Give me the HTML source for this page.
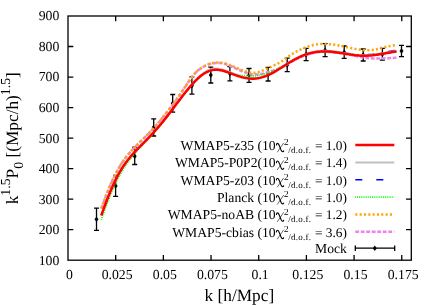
<!DOCTYPE html><html><head><meta charset="utf-8"><style>
html,body{margin:0;padding:0;background:#fff;}
svg{display:block;font-family:"Liberation Serif",serif;text-rendering:geometricPrecision;will-change:transform;}
</style></head><body>
<svg width="436" height="305" viewBox="0 0 436 305">
<rect width="436" height="305" fill="#fff"/>
<g stroke="#000" stroke-width="1.3" fill="none">
<path d="M96.5,208.1 V230.4 M94.0,208.1 h5 M94.0,230.4 h5"/>
<path d="M115.6,175.5 V196.4 M113.1,175.5 h5 M113.1,196.4 h5"/>
<path d="M134.7,147.2 V164.5 M132.2,147.2 h5 M132.2,164.5 h5"/>
<path d="M153.7,118.9 V136.0 M151.2,118.9 h5 M151.2,136.0 h5"/>
<path d="M172.7,94.5 V112.2 M170.2,94.5 h5 M170.2,112.2 h5"/>
<path d="M191.9,76.9 V94.2 M189.4,76.9 h5 M189.4,94.2 h5"/>
<path d="M210.8,67.2 V83.0 M208.3,67.2 h5 M208.3,83.0 h5"/>
<path d="M229.9,66.5 V80.8 M227.4,66.5 h5 M227.4,80.8 h5"/>
<path d="M249.0,68.5 V82.3 M246.5,68.5 h5 M246.5,82.3 h5"/>
<path d="M268.1,67.4 V81.0 M265.6,67.4 h5 M265.6,81.0 h5"/>
<path d="M287.2,58.2 V71.6 M284.7,58.2 h5 M284.7,71.6 h5"/>
<path d="M306.1,48.4 V60.7 M303.6,48.4 h5 M303.6,60.7 h5"/>
<path d="M325.1,43.7 V56.6 M322.6,43.7 h5 M322.6,56.6 h5"/>
<path d="M344.2,46.0 V58.4 M341.7,46.0 h5 M341.7,58.4 h5"/>
<path d="M363.2,49.0 V61.0 M360.7,49.0 h5 M360.7,61.0 h5"/>
<path d="M382.4,48.4 V60.2 M379.9,48.4 h5 M379.9,60.2 h5"/>
<path d="M401.5,45.4 V56.6 M399.0,45.4 h5 M399.0,56.6 h5"/>
</g>
<g fill="#000">
<path d="M96.5,216.4 l2.0,2.8 l-2.0,2.8 l-2.0,-2.8 z"/>
<path d="M115.6,183.1 l2.0,2.8 l-2.0,2.8 l-2.0,-2.8 z"/>
<path d="M134.7,153.4 l2.0,2.8 l-2.0,2.8 l-2.0,-2.8 z"/>
<path d="M153.7,124.4 l2.0,2.8 l-2.0,2.8 l-2.0,-2.8 z"/>
<path d="M172.7,100.5 l2.0,2.8 l-2.0,2.8 l-2.0,-2.8 z"/>
<path d="M191.9,83.0 l2.0,2.8 l-2.0,2.8 l-2.0,-2.8 z"/>
<path d="M210.8,72.3 l2.0,2.8 l-2.0,2.8 l-2.0,-2.8 z"/>
<path d="M229.9,70.8 l2.0,2.8 l-2.0,2.8 l-2.0,-2.8 z"/>
<path d="M249.0,72.4 l2.0,2.8 l-2.0,2.8 l-2.0,-2.8 z"/>
<path d="M268.1,71.5 l2.0,2.8 l-2.0,2.8 l-2.0,-2.8 z"/>
<path d="M287.2,62.1 l2.0,2.8 l-2.0,2.8 l-2.0,-2.8 z"/>
<path d="M306.1,51.8 l2.0,2.8 l-2.0,2.8 l-2.0,-2.8 z"/>
<path d="M325.1,47.4 l2.0,2.8 l-2.0,2.8 l-2.0,-2.8 z"/>
<path d="M344.2,49.4 l2.0,2.8 l-2.0,2.8 l-2.0,-2.8 z"/>
<path d="M363.2,52.2 l2.0,2.8 l-2.0,2.8 l-2.0,-2.8 z"/>
<path d="M382.4,51.5 l2.0,2.8 l-2.0,2.8 l-2.0,-2.8 z"/>
<path d="M401.5,48.2 l2.0,2.8 l-2.0,2.8 l-2.0,-2.8 z"/>
</g>
<g fill="none" stroke-linejoin="round">
<path d="M101.30,208.59 L103.28,203.06 L105.26,197.73 L107.24,192.63 L109.22,187.78 L111.21,183.19 L113.19,178.86 L115.17,174.81 L117.15,171.02 L119.13,167.51 L121.11,164.25 L123.09,161.24 L125.07,158.46 L127.06,155.88 L129.04,153.47 L131.02,151.21 L133.00,149.07 L134.98,147.01 L136.96,145.01 L138.94,143.05 L140.92,141.10 L142.91,139.17 L144.89,137.24 L146.87,135.28 L148.85,133.28 L150.83,131.22 L152.81,129.10 L154.79,126.91 L156.77,124.65 L158.76,122.34 L160.74,119.96 L162.72,117.53 L164.70,115.04 L166.68,112.51 L168.66,109.93 L170.64,107.33 L172.62,104.70 L174.60,102.06 L176.59,99.38 L178.57,96.61 L180.55,93.75 L182.53,90.82 L184.51,87.83 L186.49,84.82 L188.47,81.87 L190.45,79.01 L192.44,76.35 L194.42,73.98 L196.40,71.91 L198.38,70.13 L200.36,68.67 L202.34,67.40 L204.32,66.30 L206.30,65.34 L208.29,64.54 L210.27,63.93 L212.25,63.46 L214.23,63.13 L216.21,62.96 L218.19,62.95 L220.17,63.08 L222.15,63.37 L224.13,63.81 L226.12,64.40 L228.10,65.10 L230.08,65.88 L232.06,66.74 L234.04,67.66 L236.02,68.58 L238.00,69.50 L239.98,70.40 L241.97,71.26 L243.95,72.06 L245.93,72.78 L247.91,73.41 L249.89,73.92 L251.87,74.31 L253.85,74.52 L255.83,74.56 L257.82,74.45 L259.80,74.21 L261.78,73.83 L263.76,73.35 L265.74,72.80 L267.72,72.24 L269.70,71.66 L271.68,71.06 L273.67,70.45 L275.65,69.83 L277.63,69.16 L279.61,68.37 L281.59,67.46 L283.57,66.43 L285.55,65.32 L287.53,64.11 L289.51,62.92 L291.50,61.76 L293.48,60.64 L295.46,59.58 L297.44,58.56 L299.42,57.61 L301.40,56.72 L303.38,55.90 L305.36,55.14 L307.35,54.46 L309.33,53.86 L311.31,53.34 L313.29,52.90 L315.27,52.54 L317.25,52.25 L319.23,52.03 L321.21,51.88 L323.20,51.79 L325.18,51.77 L327.16,51.80 L329.14,51.89 L331.12,52.03 L333.10,52.22 L335.08,52.44 L337.06,52.70 L339.04,52.99 L341.03,53.30 L343.01,53.62 L344.99,53.95 L346.97,54.29 L348.95,54.65 L350.93,55.02 L352.91,55.39 L354.89,55.78 L356.88,56.18 L358.86,56.58 L360.84,56.98 L362.82,57.36 L364.80,57.71 L366.78,58.00 L368.76,58.21 L370.74,58.37 L372.73,58.47 L374.71,58.52 L376.69,58.52 L378.67,58.50 L380.65,58.46 L382.63,58.41 L384.61,58.33 L386.59,58.24 L388.58,58.15 L390.56,58.05 L392.54,57.95 L394.52,57.81 L396.50,57.63" stroke="#ee82ee" stroke-width="2.5" stroke-dasharray="3.8 1.7"/>
<path d="M101.30,208.59 L103.28,203.06 L105.26,197.73 L107.24,192.63 L109.22,187.78 L111.21,183.19 L113.19,178.86 L115.17,174.81 L117.15,171.02 L119.13,167.51 L121.11,164.25 L123.09,161.24 L125.07,158.46 L127.06,155.88 L129.04,153.47 L131.02,151.21 L133.00,149.07 L134.98,147.01 L136.96,145.01 L138.94,143.05 L140.92,141.10 L142.91,139.17 L144.89,137.24 L146.87,135.28 L148.85,133.28 L150.83,131.22 L152.81,129.10 L154.79,126.91 L156.77,124.65 L158.76,122.34 L160.74,119.96 L162.72,117.53 L164.70,115.04 L166.68,112.51 L168.66,109.93 L170.64,107.33 L172.62,104.70 L174.60,102.06 L176.59,99.38 L178.57,96.61 L180.55,93.75 L182.53,90.82 L184.51,87.83 L186.49,84.82 L188.47,81.87 L190.45,79.01 L192.44,76.35 L194.42,73.95 L196.40,71.85 L198.38,70.03 L200.36,68.53 L202.34,67.23 L204.32,66.10 L206.30,65.13 L208.29,64.30 L210.27,63.65 L212.25,63.14 L214.23,62.76 L216.21,62.55 L218.19,62.49 L220.17,62.60 L222.15,62.86 L224.13,63.27 L226.12,63.80 L228.10,64.44 L230.08,65.13 L232.06,65.89 L234.04,66.72 L236.02,67.56 L238.00,68.42 L239.98,69.27 L241.97,70.09 L243.95,70.85 L245.93,71.54 L247.91,72.13 L249.89,72.60 L251.87,72.89 L253.85,72.94 L255.83,72.75 L257.82,72.35 L259.80,71.75 L261.78,71.00 L263.76,70.17 L265.74,69.26 L267.72,68.35 L269.70,67.43 L271.68,66.51 L273.67,65.60 L275.65,64.67 L277.63,63.67 L279.61,62.59 L281.59,61.42 L283.57,60.12 L285.55,58.72 L287.53,57.25 L289.51,55.80 L291.50,54.43 L293.48,53.20 L295.46,52.09 L297.44,51.09 L299.42,50.11 L301.40,49.17 L303.38,48.28 L305.36,47.47 L307.35,46.75 L309.33,46.11 L311.31,45.56 L313.29,45.08 L315.27,44.67 L317.25,44.36 L319.23,44.13 L321.21,44.00 L323.20,43.96 L325.18,43.98 L327.16,44.06 L329.14,44.18 L331.12,44.35 L333.10,44.58 L335.08,44.86 L337.06,45.20 L339.04,45.57 L341.03,45.95 L343.01,46.34 L344.99,46.75 L346.97,47.17 L348.95,47.60 L350.93,48.03 L352.91,48.45 L354.89,48.85 L356.88,49.20 L358.86,49.50 L360.84,49.76 L362.82,49.96 L364.80,50.11 L366.78,50.20 L368.76,50.23 L370.74,50.19 L372.73,50.01 L374.71,49.70 L376.69,49.28 L378.67,48.76 L380.65,48.20 L382.63,47.68 L384.61,47.20 L386.59,46.76 L388.58,46.37 L390.56,45.99 L392.54,45.61 L394.52,45.25 L396.50,44.89" stroke="#ffa500" stroke-width="2.5" stroke-dasharray="2.05 2.28"/>
<path d="M101.30,219.64 L103.28,213.99 L105.26,208.49 L107.24,203.16 L109.22,198.05 L111.21,193.17 L113.19,188.54 L115.17,184.18 L117.15,180.08 L119.13,176.25 L121.11,172.68 L123.09,169.35 L125.07,166.25 L127.06,163.35 L129.04,160.63 L131.02,158.04 L133.00,155.57 L134.98,153.18 L136.96,150.88 L138.94,148.64 L140.92,146.46 L142.91,144.33 L144.89,142.23 L146.87,140.14 L148.85,138.03 L150.83,135.90 L152.81,133.74 L154.79,131.54 L156.77,129.30 L158.76,126.99 L160.74,124.63 L162.72,122.21 L164.70,119.73 L166.68,117.21 L168.66,114.65 L170.64,112.05 L172.62,109.43 L174.60,106.80 L176.59,104.17 L178.57,101.54 L180.55,98.93 L182.53,96.34 L184.51,93.80 L186.49,91.30 L188.47,88.88 L190.45,86.53 L192.44,84.28 L194.42,82.13 L196.40,80.11 L198.38,78.23 L200.36,76.50 L202.34,74.94 L204.32,73.56 L206.30,72.39 L208.29,71.43 L210.27,70.69 L212.25,70.17 L214.23,69.86 L216.21,69.75 L218.19,69.82 L220.17,70.07 L222.15,70.46 L224.13,70.96 L226.12,71.55 L228.10,72.16 L230.08,72.77 L232.06,73.34 L234.04,73.87 L236.02,74.33 L238.00,74.76 L239.98,75.14 L241.97,75.47 L243.95,75.73 L245.93,75.91 L247.91,76.01 L249.89,76.04 L251.87,75.98 L253.85,75.87 L255.83,75.69 L257.82,75.44 L259.80,75.09 L261.78,74.68 L263.76,74.19 L265.74,73.61 L267.72,72.96 L269.70,72.23 L271.68,71.44 L273.67,70.57 L275.65,69.64 L277.63,68.65 L279.61,67.62 L281.59,66.57 L283.57,65.47 L285.55,64.36 L287.53,63.24 L289.51,62.12 L291.50,61.01 L293.48,59.95 L295.46,58.94 L297.44,57.98 L299.42,57.07 L301.40,56.21 L303.38,55.42 L305.36,54.68 L307.35,54.01 L309.33,53.43 L311.31,52.92 L313.29,52.49 L315.27,52.14 L317.25,51.86 L319.23,51.66 L321.21,51.52 L323.20,51.45 L325.18,51.44 L327.16,51.48 L329.14,51.58 L331.12,51.73 L333.10,51.92 L335.08,52.14 L337.06,52.40 L339.04,52.69 L341.03,53.00 L343.01,53.32 L344.99,53.65 L346.97,53.98 L348.95,54.30 L350.93,54.61 L352.91,54.89 L354.89,55.15 L356.88,55.37 L358.86,55.54 L360.84,55.66 L362.82,55.73 L364.80,55.74 L366.78,55.69 L368.76,55.58 L370.74,55.42 L372.73,55.22 L374.71,54.97 L376.69,54.69 L378.67,54.39 L380.65,54.07 L382.63,53.75 L384.61,53.41 L386.59,53.08 L388.58,52.75 L390.56,52.42 L392.54,52.10 L394.52,51.78 L396.50,51.46" stroke="#00ff00" stroke-width="1.9" stroke-dasharray="0.85 1"/>
<path d="M101.30,215.50 L103.28,209.90 L105.26,204.47 L107.24,199.24 L109.22,194.25 L111.21,189.49 L113.19,185.00 L115.17,180.78 L117.15,176.83 L119.13,173.15 L121.11,169.74 L123.09,166.58 L125.07,163.65 L127.06,160.93 L129.04,158.40 L131.02,156.02 L133.00,153.76 L134.98,151.61 L136.96,149.52 L138.94,147.50 L140.92,145.50 L142.91,143.51 L144.89,141.52 L146.87,139.51 L148.85,137.48 L150.83,135.40 L152.81,133.27 L154.79,131.09 L156.77,128.85 L158.76,126.55 L160.74,124.19 L162.72,121.78 L164.70,119.31 L166.68,116.79 L168.66,114.24 L170.64,111.65 L172.62,109.04 L174.60,106.41 L176.59,103.78 L178.57,101.16 L180.55,98.55 L182.53,95.97 L184.51,93.43 L186.49,90.94 L188.47,88.52 L190.45,86.18 L192.44,83.93 L194.42,81.80 L196.40,79.78 L198.38,77.91 L200.36,76.19 L202.34,74.65 L204.32,73.29 L206.30,72.14 L208.29,71.21 L210.27,70.49 L212.25,69.99 L214.23,69.70 L216.21,69.62 L218.19,69.72 L220.17,69.99 L222.15,70.40 L224.13,70.93 L226.12,71.55 L228.10,72.23 L230.08,72.95 L232.06,73.69 L234.04,74.43 L236.02,75.14 L238.00,75.82 L239.98,76.44 L241.97,77.00 L243.95,77.49 L245.93,77.88 L247.91,78.18 L249.89,78.37 L251.87,78.46 L253.85,78.44 L255.83,78.30 L257.82,78.04 L259.80,77.67 L261.78,77.18 L263.76,76.58 L265.74,75.87 L267.72,75.06 L269.70,74.15 L271.68,73.16 L273.67,72.09 L275.65,70.95 L277.63,69.77 L279.61,68.54 L281.59,67.29 L283.57,66.02 L285.55,64.76 L287.53,63.52 L289.51,62.30 L291.50,61.11 L293.48,59.97 L295.46,58.88 L297.44,57.85 L299.42,56.88 L301.40,55.99 L303.38,55.17 L305.36,54.42 L307.35,53.75 L309.33,53.16 L311.31,52.66 L313.29,52.23 L315.27,51.87 L317.25,51.59 L319.23,51.39 L321.21,51.25 L323.20,51.17 L325.18,51.16 L327.16,51.20 L329.14,51.30 L331.12,51.44 L333.10,51.63 L335.08,51.85 L337.06,52.10 L339.04,52.37 L341.03,52.65 L343.01,52.94 L344.99,53.23 L346.97,53.51 L348.95,53.78 L350.93,54.05 L352.91,54.28 L354.89,54.49 L356.88,54.66 L358.86,54.79 L360.84,54.86 L362.82,54.88 L364.80,54.85 L366.78,54.77 L368.76,54.63 L370.74,54.45 L372.73,54.22 L374.71,53.94 L376.69,53.64 L378.67,53.31 L380.65,52.97 L382.63,52.61 L384.61,52.26 L386.59,51.90 L388.58,51.54 L390.56,51.19 L392.54,50.84 L394.52,50.51 L396.50,50.17" stroke="#0000ff" stroke-width="1.6" stroke-dasharray="7 14" stroke-dashoffset="8"/>
<path d="M101.30,215.50 L103.28,209.90 L105.26,204.47 L107.24,199.24 L109.22,194.24 L111.21,189.48 L113.19,184.99 L115.17,180.77 L117.15,176.82 L119.13,173.14 L121.11,169.72 L123.09,166.55 L125.07,163.62 L127.06,160.90 L129.04,158.37 L131.02,155.99 L133.00,153.73 L134.98,151.57 L136.96,149.49 L138.94,147.46 L140.92,145.46 L142.91,143.47 L144.89,141.48 L146.87,139.47 L148.85,137.43 L150.83,135.35 L152.81,133.22 L154.79,131.04 L156.77,128.80 L158.76,126.50 L160.74,124.14 L162.72,121.72 L164.70,119.25 L166.68,116.73 L168.66,114.17 L170.64,111.58 L172.62,108.96 L174.60,106.34 L176.59,103.70 L178.57,101.08 L180.55,98.47 L182.53,95.89 L184.51,93.35 L186.49,90.85 L188.47,88.41 L190.45,86.02 L192.44,83.70 L194.42,81.48 L196.40,79.36 L198.38,77.38 L200.36,75.56 L202.34,73.92 L204.32,72.48 L206.30,71.25 L208.29,70.25 L210.27,69.47 L212.25,68.93 L214.23,68.61 L216.21,68.52 L218.19,68.64 L220.17,68.94 L222.15,69.40 L224.13,69.97 L226.12,70.63 L228.10,71.36 L230.08,72.15 L232.06,72.96 L234.04,73.78 L236.02,74.59 L238.00,75.36 L239.98,76.08 L241.97,76.73 L243.95,77.28 L245.93,77.73 L247.91,78.06 L249.89,78.27 L251.87,78.36 L253.85,78.34 L255.83,78.21 L257.82,77.96 L259.80,77.59 L261.78,77.11 L263.76,76.52 L265.74,75.81 L267.72,75.01 L269.70,74.11 L271.68,73.12 L273.67,72.06 L275.65,70.93 L277.63,69.75 L279.61,68.53 L281.59,67.28 L283.57,66.02 L285.55,64.77 L287.53,63.53 L289.51,62.32 L291.50,61.14 L293.48,60.00 L295.46,58.92 L297.44,57.88 L299.42,56.90 L301.40,55.98 L303.38,55.11 L305.36,54.32 L307.35,53.59 L309.33,52.95 L311.31,52.38 L313.29,51.89 L315.27,51.48 L317.25,51.16 L319.23,50.92 L321.21,50.77 L323.20,50.70 L325.18,50.72 L327.16,50.79 L329.14,50.92 L331.12,51.09 L333.10,51.31 L335.08,51.57 L337.06,51.86 L339.04,52.16 L341.03,52.49 L343.01,52.82 L344.99,53.15 L346.97,53.48 L348.95,53.80 L350.93,54.11 L352.91,54.39 L354.89,54.65 L356.88,54.87 L358.86,55.04 L360.84,55.16 L362.82,55.23 L364.80,55.24 L366.78,55.19 L368.76,55.08 L370.74,54.92 L372.73,54.72 L374.71,54.47 L376.69,54.19 L378.67,53.89 L380.65,53.57 L382.63,53.25 L384.61,52.91 L386.59,52.58 L388.58,52.25 L390.56,51.92 L392.54,51.60 L394.52,51.28 L396.50,50.96" stroke="#c0c0c0" stroke-width="2"/>
<path d="M101.30,215.51 L103.28,209.90 L105.26,204.48 L107.24,199.25 L109.22,194.26 L111.21,189.51 L113.19,185.02 L115.17,180.80 L117.15,176.85 L119.13,173.18 L121.11,169.76 L123.09,166.60 L125.07,163.68 L127.06,160.96 L129.04,158.43 L131.02,156.05 L133.00,153.80 L134.98,151.65 L136.96,149.57 L138.94,147.54 L140.92,145.55 L142.91,143.56 L144.89,141.58 L146.87,139.57 L148.85,137.54 L150.83,135.46 L152.81,133.34 L154.79,131.16 L156.77,128.92 L158.76,126.63 L160.74,124.27 L162.72,121.86 L164.70,119.39 L166.68,116.87 L168.66,114.32 L170.64,111.73 L172.62,109.12 L174.60,106.50 L176.59,103.87 L178.57,101.25 L180.55,98.65 L182.53,96.07 L184.51,93.53 L186.49,91.05 L188.47,88.63 L190.45,86.29 L192.44,84.05 L194.42,81.91 L196.40,79.90 L198.38,78.03 L200.36,76.31 L202.34,74.77 L204.32,73.42 L206.30,72.28 L208.29,71.34 L210.27,70.63 L212.25,70.13 L214.23,69.85 L216.21,69.76 L218.19,69.87 L220.17,70.14 L222.15,70.55 L224.13,71.08 L226.12,71.70 L228.10,72.39 L230.08,73.11 L232.06,73.85 L234.04,74.59 L236.02,75.31 L238.00,75.99 L239.98,76.62 L241.97,77.18 L243.95,77.66 L245.93,78.06 L247.91,78.36 L249.89,78.56 L251.87,78.65 L253.85,78.63 L255.83,78.49 L257.82,78.24 L259.80,77.87 L261.78,77.38 L263.76,76.78 L265.74,76.08 L267.72,75.27 L269.70,74.36 L271.68,73.37 L273.67,72.31 L275.65,71.17 L277.63,69.99 L279.61,68.76 L281.59,67.51 L283.57,66.25 L285.55,65.00 L287.53,63.75 L289.51,62.54 L291.50,61.35 L293.48,60.21 L295.46,59.13 L297.44,58.10 L299.42,57.13 L301.40,56.24 L303.38,55.42 L305.36,54.68 L307.35,54.01 L309.33,53.43 L311.31,52.92 L313.29,52.49 L315.27,52.14 L317.25,51.86 L319.23,51.66 L321.21,51.52 L323.20,51.45 L325.18,51.44 L327.16,51.48 L329.14,51.58 L331.12,51.73 L333.10,51.92 L335.08,52.14 L337.06,52.40 L339.04,52.69 L341.03,53.00 L343.01,53.32 L344.99,53.65 L346.97,53.98 L348.95,54.30 L350.93,54.61 L352.91,54.89 L354.89,55.15 L356.88,55.37 L358.86,55.54 L360.84,55.66 L362.82,55.73 L364.80,55.74 L366.78,55.69 L368.76,55.58 L370.74,55.42 L372.73,55.22 L374.71,54.97 L376.69,54.69 L378.67,54.39 L380.65,54.07 L382.63,53.75 L384.61,53.41 L386.59,53.08 L388.58,52.75 L390.56,52.42 L392.54,52.10 L394.52,51.78 L396.50,51.46" stroke="#ff0000" stroke-width="2.5"/>
</g>
<g stroke="#000" stroke-width="1.3" fill="none">
<rect x="68.0" y="16.0" width="343.3" height="244.2"/>
<path d="M68.0,229.67 h5.3 M411.3,229.67 h-5.3"/>
<path d="M68.0,199.15 h5.3 M411.3,199.15 h-5.3"/>
<path d="M68.0,168.62 h5.3 M411.3,168.62 h-5.3"/>
<path d="M68.0,138.10 h5.3 M411.3,138.10 h-5.3"/>
<path d="M68.0,107.57 h5.3 M411.3,107.57 h-5.3"/>
<path d="M68.0,77.05 h5.3 M411.3,77.05 h-5.3"/>
<path d="M68.0,46.52 h5.3 M411.3,46.52 h-5.3"/>
<path d="M115.68,260.2 v-5.3 M115.68,16.0 v5.3"/>
<path d="M163.36,260.2 v-5.3 M163.36,16.0 v5.3"/>
<path d="M211.04,260.2 v-5.3 M211.04,16.0 v5.3"/>
<path d="M258.72,260.2 v-5.3 M258.72,16.0 v5.3"/>
<path d="M306.40,260.2 v-5.3 M306.40,16.0 v5.3"/>
<path d="M354.08,260.2 v-5.3 M354.08,16.0 v5.3"/>
<path d="M401.76,260.2 v-5.3 M401.76,16.0 v5.3"/>
</g>
<g font-size="13.75" fill="#000">
<text x="59.3" y="264.6" text-anchor="end">100</text>
<text x="59.3" y="234.1" text-anchor="end">200</text>
<text x="59.3" y="203.5" text-anchor="end">300</text>
<text x="59.3" y="173.0" text-anchor="end">400</text>
<text x="59.3" y="142.5" text-anchor="end">500</text>
<text x="59.3" y="112.0" text-anchor="end">600</text>
<text x="59.3" y="81.4" text-anchor="end">700</text>
<text x="59.3" y="50.9" text-anchor="end">800</text>
<text x="59.3" y="20.4" text-anchor="end">900</text>
<text x="69.4" y="278.9" text-anchor="middle">0</text>
<text x="117.1" y="278.9" text-anchor="middle">0.025</text>
<text x="164.8" y="278.9" text-anchor="middle">0.05</text>
<text x="212.4" y="278.9" text-anchor="middle">0.075</text>
<text x="260.1" y="278.9" text-anchor="middle">0.1</text>
<text x="307.8" y="278.9" text-anchor="middle">0.125</text>
<text x="355.5" y="278.9" text-anchor="middle">0.15</text>
<text x="403.2" y="278.9" text-anchor="middle">0.175</text>
</g>
<text x="239.4" y="301.3" font-size="17.3" text-anchor="middle">k [h/Mpc]</text>
<text transform="translate(18.1,204.3) rotate(-90)" font-size="17.3">k<tspan font-size="13.8" dy="-8.5">1.5</tspan><tspan dy="8.5">P</tspan><tspan font-size="13.8" dy="5.1">0</tspan><tspan dy="-5.1"> [(Mpc/h)</tspan><tspan font-size="13.8" dy="-8.5">1.5</tspan><tspan dy="8.5">]</tspan></text>
<g font-size="13.65" fill="#000">
<text x="275.70" y="149.80" text-anchor="end" xml:space="preserve">WMAP5-z35 (10</text>
<g transform="translate(275.60,149.60) scale(0.92)" fill="none" stroke="#000" stroke-linecap="round"><path d="M0.9,-5.0 C1.0,-6.1 1.5,-6.8 2.2,-6.8 C3.0,-6.8 3.5,-5.8 4.3,-3.6 L5.9,0.5 C6.5,1.9 7.1,2.4 7.8,2.3 C8.3,2.2 8.7,1.8 8.8,1.3" stroke-width="1.2"/><path d="M8.6,-7.0 L2.0,2.6" stroke-width="0.65"/></g>
<text x="284.10" y="145.20" font-size="9.2">2</text>
<text x="288.30" y="152.80" font-size="9" letter-spacing="0.25">/d.o.f.</text>
<text x="311.62" y="149.80" font-size="13.33" xml:space="preserve"> = 1.0)</text>
<text x="275.70" y="167.40" text-anchor="end" xml:space="preserve">WMAP5-P0P2(10</text>
<g transform="translate(275.60,167.20) scale(0.92)" fill="none" stroke="#000" stroke-linecap="round"><path d="M0.9,-5.0 C1.0,-6.1 1.5,-6.8 2.2,-6.8 C3.0,-6.8 3.5,-5.8 4.3,-3.6 L5.9,0.5 C6.5,1.9 7.1,2.4 7.8,2.3 C8.3,2.2 8.7,1.8 8.8,1.3" stroke-width="1.2"/><path d="M8.6,-7.0 L2.0,2.6" stroke-width="0.65"/></g>
<text x="284.10" y="162.80" font-size="9.2">2</text>
<text x="288.30" y="170.40" font-size="9" letter-spacing="0.25">/d.o.f.</text>
<text x="311.62" y="167.40" font-size="13.33" xml:space="preserve"> = 1.4)</text>
<text x="275.70" y="184.70" text-anchor="end" xml:space="preserve">WMAP5-z03 (10</text>
<g transform="translate(275.60,184.50) scale(0.92)" fill="none" stroke="#000" stroke-linecap="round"><path d="M0.9,-5.0 C1.0,-6.1 1.5,-6.8 2.2,-6.8 C3.0,-6.8 3.5,-5.8 4.3,-3.6 L5.9,0.5 C6.5,1.9 7.1,2.4 7.8,2.3 C8.3,2.2 8.7,1.8 8.8,1.3" stroke-width="1.2"/><path d="M8.6,-7.0 L2.0,2.6" stroke-width="0.65"/></g>
<text x="284.10" y="180.10" font-size="9.2">2</text>
<text x="288.30" y="187.70" font-size="9" letter-spacing="0.25">/d.o.f.</text>
<text x="311.62" y="184.70" font-size="13.33" xml:space="preserve"> = 1.0)</text>
<text x="275.70" y="202.00" text-anchor="end" xml:space="preserve">Planck (10</text>
<g transform="translate(275.60,201.80) scale(0.92)" fill="none" stroke="#000" stroke-linecap="round"><path d="M0.9,-5.0 C1.0,-6.1 1.5,-6.8 2.2,-6.8 C3.0,-6.8 3.5,-5.8 4.3,-3.6 L5.9,0.5 C6.5,1.9 7.1,2.4 7.8,2.3 C8.3,2.2 8.7,1.8 8.8,1.3" stroke-width="1.2"/><path d="M8.6,-7.0 L2.0,2.6" stroke-width="0.65"/></g>
<text x="284.10" y="197.40" font-size="9.2">2</text>
<text x="288.30" y="205.00" font-size="9" letter-spacing="0.25">/d.o.f.</text>
<text x="311.62" y="202.00" font-size="13.33" xml:space="preserve"> = 1.0)</text>
<text x="275.70" y="219.30" text-anchor="end" xml:space="preserve">WMAP5-noAB (10</text>
<g transform="translate(275.60,219.10) scale(0.92)" fill="none" stroke="#000" stroke-linecap="round"><path d="M0.9,-5.0 C1.0,-6.1 1.5,-6.8 2.2,-6.8 C3.0,-6.8 3.5,-5.8 4.3,-3.6 L5.9,0.5 C6.5,1.9 7.1,2.4 7.8,2.3 C8.3,2.2 8.7,1.8 8.8,1.3" stroke-width="1.2"/><path d="M8.6,-7.0 L2.0,2.6" stroke-width="0.65"/></g>
<text x="284.10" y="214.70" font-size="9.2">2</text>
<text x="288.30" y="222.30" font-size="9" letter-spacing="0.25">/d.o.f.</text>
<text x="311.62" y="219.30" font-size="13.33" xml:space="preserve"> = 1.2)</text>
<text x="275.70" y="236.70" text-anchor="end" xml:space="preserve">WMAP5-cbias (10</text>
<g transform="translate(275.60,236.50) scale(0.92)" fill="none" stroke="#000" stroke-linecap="round"><path d="M0.9,-5.0 C1.0,-6.1 1.5,-6.8 2.2,-6.8 C3.0,-6.8 3.5,-5.8 4.3,-3.6 L5.9,0.5 C6.5,1.9 7.1,2.4 7.8,2.3 C8.3,2.2 8.7,1.8 8.8,1.3" stroke-width="1.2"/><path d="M8.6,-7.0 L2.0,2.6" stroke-width="0.65"/></g>
<text x="284.10" y="232.10" font-size="9.2">2</text>
<text x="288.30" y="239.70" font-size="9" letter-spacing="0.25">/d.o.f.</text>
<text x="311.62" y="236.70" font-size="13.33" xml:space="preserve"> = 3.6)</text>
<text x="346.9" y="253.2" text-anchor="end">Mock</text>
</g>
<g fill="none">
<path d="M355.3,144.9 H394.3" stroke="#ff0000" stroke-width="2.5"/>
<path d="M355.3,162.5 H394.3" stroke="#c0c0c0" stroke-width="2"/>
<path d="M355.3,179.8 H394.3" stroke="#0000ff" stroke-width="1.6" stroke-dasharray="7 14"/>
<path d="M355.3,197.1 H394.3" stroke="#00ff00" stroke-width="1.9" stroke-dasharray="0.85 1"/>
<path d="M355.3,214.4 H394.3" stroke="#ffa500" stroke-width="2.5" stroke-dasharray="2.05 2.28"/>
<path d="M355.3,231.8 H394.3" stroke="#ee82ee" stroke-width="2.5" stroke-dasharray="3.8 1.7"/>
<path d="M355.3,248.2 H394.7 M355.3,245.4 v5.6 M394.7,245.4 v5.6" stroke="#000" stroke-width="1.3"/>
<path d="M374.8,245.4 l2.0,2.8 l-2.0,2.8 l-2.0,-2.8 z" fill="#000"/>
</g>
</svg></body></html>
